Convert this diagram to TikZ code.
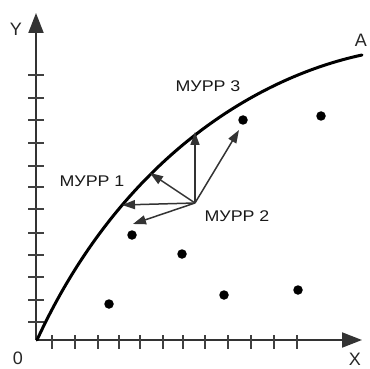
\documentclass[tikz,border=0pt]{standalone}
\usepackage{fontspec}
\setmainfont{Liberation Sans}
\usetikzlibrary{arrows.meta}
\begin{document}
\begin{tikzpicture}[x=1pt,y=-1pt,
  axis/.style={draw=black!80,line width=2pt,-{Triangle[length=20pt,width=15pt]}},
  tick/.style={draw=black!75,line width=1.8pt},
  vec/.style={draw=black!80,line width=1.5pt,-{Triangle[length=13pt,width=9pt]}},
  dot/.style={circle,fill=black,inner sep=0pt,minimum size=9.5pt},
  lbl/.style={font=\fontsize{15.5}{15.5}\selectfont,text=black!90,inner sep=0pt},
  axlbl/.style={font=\fontsize{18}{18}\selectfont,text=black!85,inner sep=0pt}]
\useasboundingbox (0,0) rectangle (370,369);
\coordinate (O) at (36,340);
\coordinate (Yend) at (36,13);
\coordinate (Xend) at (362,340);
\draw[axis] (O) -- (Yend);
\draw[axis] (O) -- (Xend);
\foreach \y in {75,98,120,143,166,187,209,233,255,277,300,322}
  \draw[tick] (28,\y) -- (44,\y);
\foreach \x in {52,75,98,119,140,163,183,205,228,251,274,297}
  \draw[tick] (\x,335) -- (\x,349);
\node[axlbl] (ylab) at (16,29) {Y};
\node[axlbl] (xlab) at (355,359) {X};
\node[axlbl] (zero) at (18,358) {0};
\node[axlbl] (alab) at (361,40) {A};
\coordinate (C0) at (37,340);
\coordinate (C1) at (362,55);
\draw[line width=3pt,line cap=round] (C0) .. controls (120,160) and (255,78) .. (C1);
\node[dot] (d1) at (243,120) {};
\node[dot] (d2) at (321,116) {};
\node[dot] (d3) at (132,235) {};
\node[dot] (d4) at (182,254) {};
\node[dot] (d5) at (109,304) {};
\node[dot] (d6) at (224,295) {};
\node[dot] (d7) at (298,290) {};
\coordinate (P) at (195,203);
\coordinate (t1) at (195,132);
\coordinate (t2) at (150,173);
\coordinate (t3) at (122,205);
\coordinate (t4) at (133,224);
\coordinate (t5) at (239,130);
\foreach \t in {t1,t2,t3,t4,t5} \draw[vec] (P) -- (\t);
\node[lbl] (m1) at (92,181) {\scalebox{1.15}[1]{МУРР 1}};
\node[lbl] (m3) at (208,86) {\scalebox{1.15}[1]{МУРР 3}};
\node[lbl] (m2) at (237,216) {\scalebox{1.15}[1]{МУРР 2}};
\end{tikzpicture}
\end{document}
